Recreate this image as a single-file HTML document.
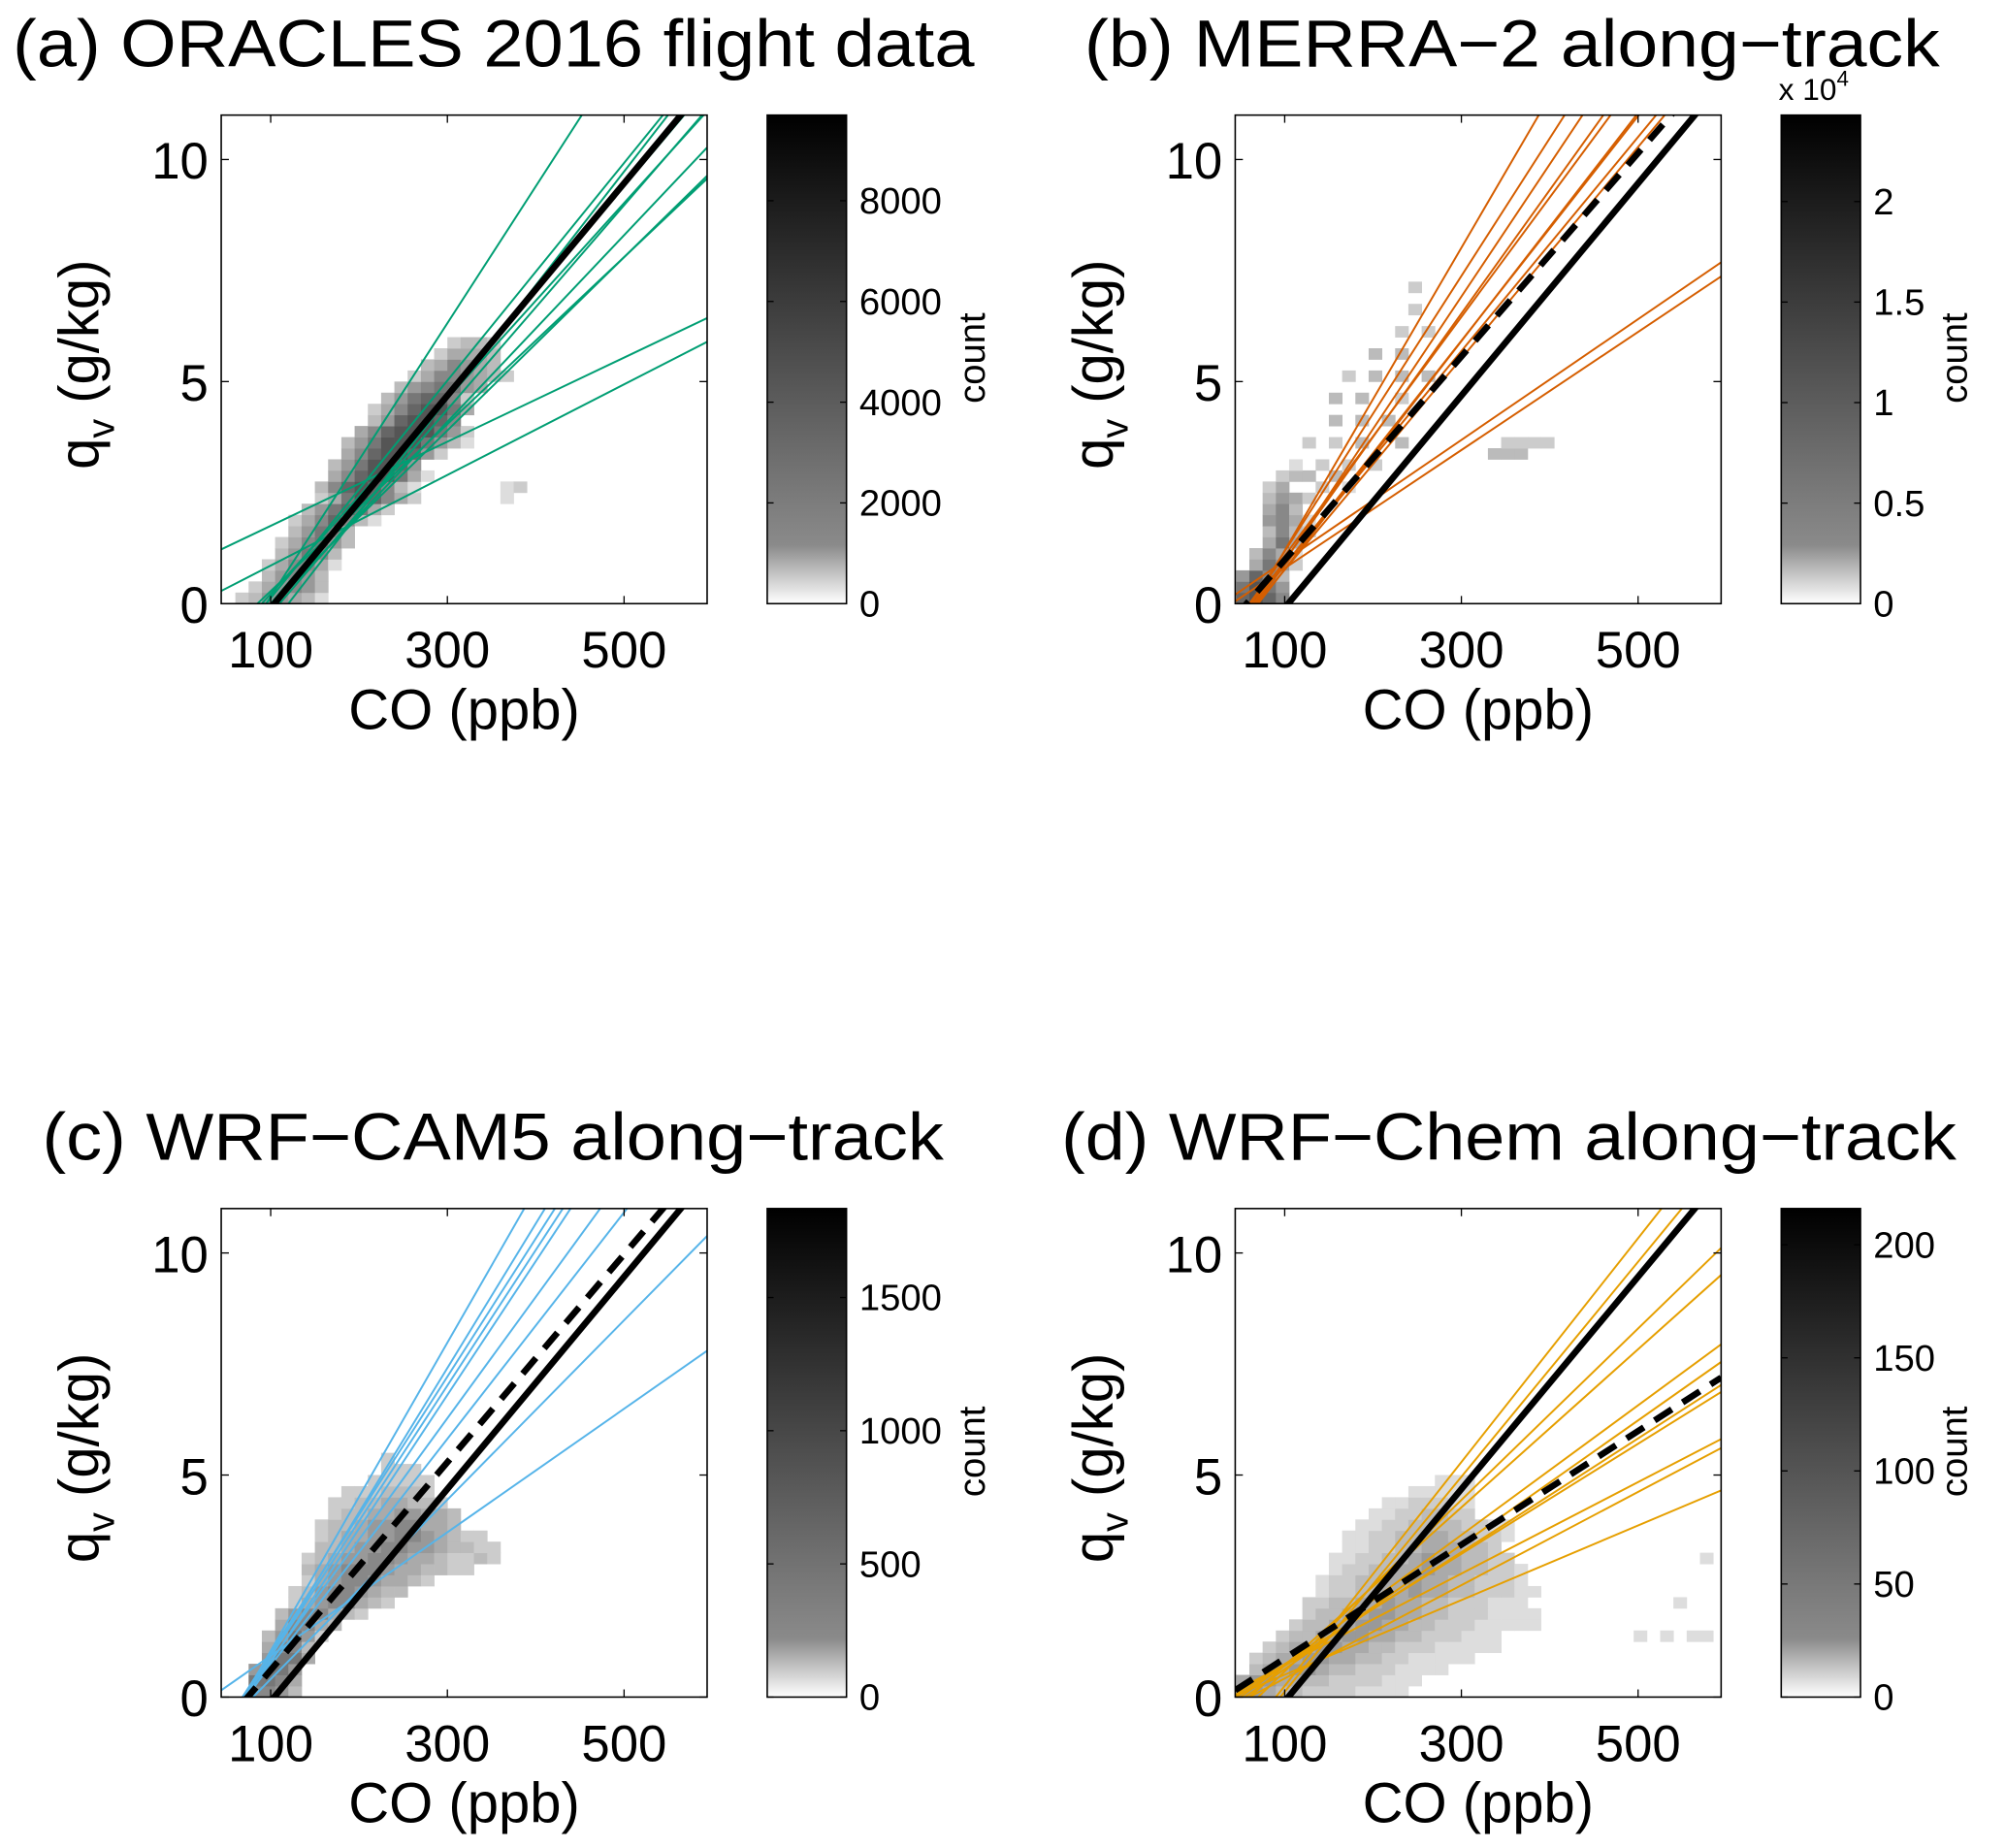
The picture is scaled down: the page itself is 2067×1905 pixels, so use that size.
<!DOCTYPE html>
<html><head><meta charset="utf-8"><style>
html,body{margin:0;padding:0;background:#fff;}
svg{display:block;font-family:"Liberation Sans",Arial,sans-serif;}
</style></head><body>
<svg id="fig" width="2067" height="1905" viewBox="0 0 1568 1445" preserveAspectRatio="none" xmlns="http://www.w3.org/2000/svg"></svg>
<script>
// ---------- data ----------
const xTicks = [100, 300, 500];
const yTicks = [0, 5, 10];
const titles = ["(a) ORACLES 2016 flight data", "(b) MERRA\u22122 along\u2212track", "(c) WRF\u2212CAM5 along\u2212track", "(d) WRF\u2212Chem along\u2212track"];
const lineColors = ["#009e73", "#d55e00", "#56b4e9", "#e69f00"];
// observed fit (solid black): x-intercept (ppb), slope (g/kg per ppb)
const obsFit = [104, 0.0239];
// model fits (dashed black), per panel (null for a)
const modelFit = [null, [57, 0.0229], [74, 0.0234], [32, 0.0128]];
// individual flight fits: x-intercepts and slopes
const aX0 = [95, 100, 95, 110, 90, 105, 100, 85, -85, 16, 120];
const aSlope = [0.0308, 0.0235, 0.0245, 0.023, 0.022, 0.021, 0.0195, 0.0188, 0.00947, 0.0102, 0.0256];
const bX0 = [65, 62, 68, 65, 60, 70, 66, 64, 68, 29, 40];
const bSlope = [0.0341, 0.0310, 0.0298, 0.0278, 0.0269, 0.0257, 0.0253, 0.0241, 0.0238, 0.0136, 0.0133];
const cX0 = [70, 72, 68, 70, 74, 70, 72, 80, 33];
const cSlope = [0.0347, 0.0325, 0.0311, 0.0305, 0.0301, 0.0273, 0.0255, 0.0202, 0.0139];
const dX0 = [90, 95, 70, 60, 50, 55, 45, 40, 30, 60, 40];
const dSlope = [0.0252, 0.0242, 0.0193, 0.0178, 0.0146, 0.0140, 0.0128, 0.0124, 0.0103, 0.0105, 0.0084];
// 2D histogram rows: [qv bin index, start CO (ppb), gray-level string]
const aHist = [[0,60,"2355431"],[1,75,"245653"],[2,90,"35653"],[3,90,"246641"],[4,105,"35763"],[5,105,"246753"],[6,120,"35763"],[7,120,"2468631"],[8,135,"3578742"],[9,150,"247986420000001"],[10,150,"3689863100000012"],[11,165,"46899741"],[12,165,"3579985"],[13,180,"46899852"],[14,180,"3579997531"],[15,195,"468999752"],[16,210,"3589986"],[17,210,"24689974"],[18,225,"3578862"],[19,240,"3567754"],[20,255,"24665432"],[21,270,"346543"],[22,285,"24443"],[23,300,"2332"]];
const bHist = [[0,45,"8986"],[1,45,"7975"],[2,45,"5863"],[3,60,"4752"],[4,60,"3641"],[5,60,"0474"],[6,60,"03632"],[7,75,"5641"],[8,75,"4630"],[9,75,"35420"],[10,75,"2400201"],[11,90,"23303"],[12,105,"1020202"],[14,120,"2020300300"],[16,135,"0303030"],[18,150,"303002"],[20,165,"2030303"],[22,195,"3030"],[24,210,"02020"],[26,225,"020"],[28,240,"2"],[13,330,"3330"],[14,345,"2222"]];
const cHist = [[0,75,"6653"],[1,75,"7764"],[2,75,"5775"],[3,90,"5774"],[4,90,"4663"],[5,90,"35752"],[6,105,"46643"],[7,105,"3566432"],[8,120,"245664320"],[9,120,"2356654330"],[10,135,"2456654432"],[11,135,"3456665443322"],[12,135,"234556654432232"],[13,150,"33455665543322"],[14,150,"2344556654322"],[15,150,"23345566443"],[16,165,"2334455443"],[17,165,"223344332"],[18,180,"2223332"],[19,210,"22222"],[20,225,"222"],[21,225,"2"]];
const dHist = [[0,45,"5543322221111"],[1,45,"45544332222111"],[2,60,"3445543322211110"],[3,60,"23445544332211111"],[4,75,"234455443322211111"],[5,90,"23344554433222111"],[6,105,"2334455443322211111"],[7,120,"233445544332221111"],[8,120,"22334454433222111"],[9,135,"12233445443322211"],[10,135,"1223344544332221"],[11,150,"122334454433221"],[12,150,"11223345443322"],[13,165,"112233444332"],[14,165,"1122334433221"],[15,180,"112233332211"],[16,195,"11223322"],[17,210,"1122211"],[18,240,"11111"],[19,270,"111"],[5,480,"0101011"],[8,540,"1"],[12,570,"1"]];
// colorbar limits and ticks
const cbMax = [9700, 2.43, 1834, 216];
const cbTicks = [[0,2000,4000,6000,8000],[0,0.5,1,1.5,2],[0,500,1000,1500],[0,50,100,150,200]];

// ---------- drawing ----------
const NS = "http://www.w3.org/2000/svg";
const svg = document.getElementById("fig");
function mk(tag, attrs, parent){ const e=document.createElementNS(NS,tag); for(const k in attrs) e.setAttribute(k,attrs[k]); (parent||svg).appendChild(e); return e; }
const X0=44, X1=594, Y0=0, Y1=11, W=380, H=382;
const panels=[[173,90],[966,90],[173,945],[966,945]];
const fits=[[aX0,aSlope],[bX0,bSlope],[cX0,cSlope],[dX0,dSlope]];
const hists=[aHist,bHist,cHist,dHist];
const keys=["a","b","c","d"];
const titlePos=[[10,52,752],[848,52,669],[33,907,705],[830,907,700]];
const countOff=[170,145,170,145];
const defs=mk("defs",{});
const grad=mk("linearGradient",{id:"cbg",x1:"0",y1:"1",x2:"0",y2:"0"},defs);
mk("stop",{offset:"0",  "stop-color":"#ffffff"},grad);
mk("stop",{offset:"0.12","stop-color":"#8a8a8a"},grad);
mk("stop",{offset:"1",  "stop-color":"#000000"},grad);

panels.forEach(([bx,by],p)=>{
  const sx=v=>bx+(v-X0)/(X1-X0)*W;
  const sy=v=>by+H-(v-Y0)/(Y1-Y0)*H;
  const g=mk("g",{});
  
  
  const cp=mk("clipPath",{id:"clip"+p},defs);
  mk("rect",{x:bx,y:by,width:W,height:H},cp);
  const t=mk("text",{x:titlePos[p][0],y:titlePos[p][1],"font-size":"52",textLength:titlePos[p][2],lengthAdjust:"spacingAndGlyphs"},g);
  t.textContent=titles[p];
  
  
  // histogram
  const hg=mk("g",{"clip-path":"url(#clip"+p+")"},g);
  
  
  hists[p].forEach(([qi,c0,s])=>{
    for(let k=0;k<s.length;k++){
      const lv=+s[k]; if(!lv) continue;
      const co=c0+k*15, q=qi*0.25;
      const gv=Math.round(238-lv*17);
      const r=mk("rect",{x:sx(co),y:sy(q+0.25),width:sx(co+15)-sx(co)+0.3,height:sy(q)-sy(q+0.25)+0.3,fill:`rgb(${gv},${gv},${gv})`},hg);
      
      
    }
  });
  // fit lines
  const lg=mk("g",{"clip-path":"url(#clip"+p+")"},g);
  const line=(x0,m,attrs,name)=>{
    const xa=X0, xb=X1;
    const l=mk("line",Object.assign({x1:sx(xa),y1:sy(m*(xa-x0)),x2:sx(xb),y2:sy(m*(xb-x0))},attrs),lg);
    
    
  };
  const [xs,ms]=fits[p];
  xs.forEach((x0,i)=>line(x0,ms[i],{stroke:lineColors[p],"stroke-width":"1.5"},'flight-fit-line'));
  line(obsFit[0],obsFit[1],{stroke:"#000","stroke-width":"5"},'observed-fit-line');
  if(modelFit[p]) line(modelFit[p][0],modelFit[p][1],{stroke:"#000","stroke-width":"5","stroke-dasharray":"16 10"},'model-fit-line');
  // axes box
  const box=mk("rect",{x:bx,y:by,width:W,height:H,fill:"none",stroke:"#000","stroke-width":"1.2"},g);
  
  
  xTicks.forEach(v=>{
    mk("line",{x1:sx(v),y1:by+H,x2:sx(v),y2:by+H-6,stroke:"#000","stroke-width":"1"},g);
    mk("line",{x1:sx(v),y1:by,x2:sx(v),y2:by+6,stroke:"#000","stroke-width":"1"},g);
    const tl=mk("text",{x:sx(v),y:by+H+50,"font-size":"40","text-anchor":"middle"},g);
    tl.textContent=v;
    
    
  });
  yTicks.forEach(v=>{
    mk("line",{x1:bx,y1:sy(v),x2:bx+6,y2:sy(v),stroke:"#000","stroke-width":"1"},g);
    mk("line",{x1:bx+W,y1:sy(v),x2:bx+W-6,y2:sy(v),stroke:"#000","stroke-width":"1"},g);
    const tl=mk("text",{x:bx-10,y:sy(v)+15,"font-size":"40","text-anchor":"end"},g);
    tl.textContent=v;
    
    
  });
  const xl=mk("text",{x:bx+190,y:by+H+98,"font-size":"44","text-anchor":"middle"},g);
  xl.textContent="CO (ppb)";
  
  
  const yl=mk("text",{transform:`translate(${bx-96},${by+195}) rotate(-90)`,"font-size":"44","text-anchor":"middle"},g);
  yl.innerHTML='q<tspan font-size="30" dy="12">v</tspan><tspan dy="-12"> (g/kg)</tspan>';
  
  
  // colorbar
  const cx=bx+427, cw=62;
  const cb=mk("rect",{x:cx,y:by,width:cw,height:H,fill:"url(#cbg)",stroke:"#000","stroke-width":"1.2"},g);
  
  
  cbTicks[p].forEach(v=>{
    const yy=by+H-v/cbMax[p]*H;
    mk("line",{x1:cx+cw,y1:yy,x2:cx+cw-5,y2:yy,stroke:"#000"},g);
    mk("line",{x1:cx,y1:yy,x2:cx+5,y2:yy,stroke:"#000"},g);
    const tl=mk("text",{x:cx+cw+10,y:yy+10,"font-size":"29"},g);
    tl.textContent=v;
    
    
  });
  const cl=mk("text",{transform:`translate(${cx+countOff[p]},${by+190}) rotate(-90)`,"font-size":"29","text-anchor":"middle"},g);
  cl.textContent="count";
  
  
  if(p===1){
    const ex=mk("text",{x:cx-2,y:by-12,"font-size":"24"},g);
    ex.innerHTML='x 10<tspan font-size="17" dy="-11">4</tspan>';
    
    
  }
});
</script>
</body></html>
